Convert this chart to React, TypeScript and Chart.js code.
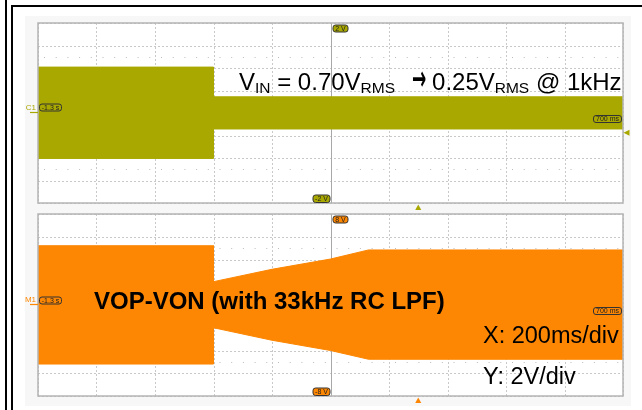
import React, { useEffect, useRef } from "react";
import { Chart, registerables } from "chart.js";

Chart.register(...registerables);

// ---- data (seconds relative to trigger, volts) ----
const xTicks = [-1.3, -1.1, -0.9, -0.7, -0.5, -0.3, -0.1, 0.1, 0.3, 0.5, 0.7];

const vinTime = [-1.3, -0.7, -0.7, 0.7];
const vinUpper = [1.02, 1.02, 0.36, 0.36];
const vinLower = [-1.01, -1.01, -0.355, -0.355];
const vinTicks = [-2, -1.5, -1, -0.5, 0, 0.5, 1, 1.5, 2];

const voutTime = [-1.3, -0.7, -0.7, -0.5, -0.3, -0.17, 0.7];
const voutUpper = [5.21, 5.21, 2.05, 3.14, 4.04, 4.84, 4.84];
const voutLower = [-5.19, -5.19, -2.0, -3.1, -4.0, -4.77, -4.77];
const voutTicks = [-8, -6, -4, -2, 0, 2, 4, 6, 8];

const OLIVE = "#a9a800";
const ORANGE = "#fd8602";
const FONT = "'Liberation Sans', Arial, sans-serif";

function drawBadge(ctx: CanvasRenderingContext2D, text: string, x: number, y: number, w: number, h: number, fill: string) {
  ctx.save();
  ctx.beginPath();
  (ctx as any).roundRect(x + 0.5, y + 0.5, w, h, 2.5);
  ctx.fillStyle = fill;
  ctx.fill();
  ctx.strokeStyle = "#333";
  ctx.lineWidth = 1;
  ctx.stroke();
  ctx.fillStyle = "#222";
  ctx.font = `7px ${FONT}`;
  ctx.textAlign = "center";
  ctx.textBaseline = "middle";
  ctx.fillText(text, x + 0.5 + w / 2, y + 0.5 + h / 2 + 0.5);
  ctx.restore();
}

function makePlugin(cfg: {
  color: string;
  yTicks: number[];
  chLabel: string;
  labelDy: number;
  topBadge: string;
  botBadge: string;
  badgeDy: number;
  rightLevel: number | null;
}) {
  return {
    id: "scope",
    beforeDatasetsDraw(chart: any) {
      const { ctx, chartArea: a, scales } = chart;
      const xs = scales.x;
      const ys = scales.y;
      ctx.save();
      ctx.fillStyle = "#ffffff";
      ctx.fillRect(a.left, a.top, a.right - a.left, a.bottom - a.top);
      ctx.strokeStyle = "#c9c9c9";
      ctx.lineWidth = 1;
      ctx.setLineDash([2, 2]);
      xTicks.forEach((v) => {
        const px = Math.round(xs.getPixelForValue(v)) + 0.5;
        ctx.beginPath();
        ctx.moveTo(px, a.top);
        ctx.lineTo(px, a.bottom);
        ctx.stroke();
      });
      cfg.yTicks.forEach((v) => {
        const py = Math.round(ys.getPixelForValue(v)) + 0.5;
        ctx.beginPath();
        ctx.moveTo(a.left, py);
        ctx.lineTo(a.right, py);
        ctx.stroke();
      });
      // dotted rows at +-2.5 divisions
      const div = cfg.yTicks[1] - cfg.yTicks[0];
      ctx.strokeStyle = "#bdbdbd";
      ctx.setLineDash([1, 10.7]);
      [2.5 * div, -2.5 * div].forEach((v) => {
        const py = Math.round(ys.getPixelForValue(v)) + 0.5;
        ctx.beginPath();
        ctx.moveTo(a.left + 6, py);
        ctx.lineTo(a.right, py);
        ctx.stroke();
      });
      // solid centre lines
      ctx.setLineDash([]);
      ctx.strokeStyle = "#a8a8a8";
      const cx = Math.round(xs.getPixelForValue(-0.3)) + 0.5;
      ctx.beginPath();
      ctx.moveTo(cx, a.top);
      ctx.lineTo(cx, a.bottom);
      ctx.stroke();
      const cy = Math.round(ys.getPixelForValue(0)) + 0.5;
      ctx.beginPath();
      ctx.moveTo(a.left, cy);
      ctx.lineTo(a.right, cy);
      ctx.stroke();
      ctx.restore();
    },
    afterDatasetsDraw(chart: any) {
      const { ctx, chartArea: a, scales } = chart;
      const xs = scales.x;
      const ys = scales.y;
      ctx.save();
      ctx.strokeStyle = "#b4b4b4";
      ctx.lineWidth = 1.5;
      ctx.strokeRect(a.left, a.top, a.right - a.left, a.bottom - a.top);
      const cx = xs.getPixelForValue(-0.3);
      const cy = ys.getPixelForValue(0);
      // channel label and level marker
      ctx.fillStyle = cfg.color;
      ctx.font = `8px ${FONT}`;
      ctx.textAlign = "right";
      ctx.textBaseline = "alphabetic";
      ctx.fillText(cfg.chLabel, a.left - 2, cy + cfg.labelDy);
      ctx.strokeStyle = cfg.color;
      ctx.lineWidth = 1.2;
      ctx.beginPath();
      ctx.moveTo(a.left - 8, cy - 0.5);
      ctx.lineTo(a.left, cy - 0.5);
      ctx.stroke();
      // badges
      drawBadge(ctx, "-1.3 s", a.left + 1, cy + cfg.badgeDy - 3.5, 22, 7, cfg.color);
      drawBadge(ctx, "700 ms", a.right - 30, cy + 2, 28, 7, cfg.color);
      drawBadge(ctx, cfg.topBadge, cx + 2, a.top + 1.5, 15, 7, cfg.color);
      drawBadge(ctx, cfg.botBadge, cx - 18, a.bottom - 8.5, 17, 7.5, cfg.color);
      // trigger position marker
      const tx = xs.getPixelForValue(0);
      ctx.fillStyle = cfg.color;
      ctx.beginPath();
      ctx.moveTo(tx, a.bottom + 1.5);
      ctx.lineTo(tx - 3, a.bottom + 7);
      ctx.lineTo(tx + 3, a.bottom + 7);
      ctx.closePath();
      ctx.fill();
      if (cfg.rightLevel !== null) {
        const ly = ys.getPixelForValue(cfg.rightLevel);
        ctx.beginPath();
        ctx.moveTo(a.right + 0.5, ly);
        ctx.lineTo(a.right + 6.5, ly - 3);
        ctx.lineTo(a.right + 6.5, ly + 3);
        ctx.closePath();
        ctx.fill();
      }
      ctx.restore();
    },
  };
}

function pts(t: number[], v: number[]) {
  return t.map((x, i) => ({ x, y: v[i] }));
}

function ScopeChart(props: {
  top: number;
  height: number;
  pad: { left: number; top: number; right: number; bottom: number };
  time: number[];
  upper: number[];
  lower: number[];
  yTicks: number[];
  color: string;
  plugin: any;
}) {
  const ref = useRef<HTMLCanvasElement | null>(null);
  useEffect(() => {
    if (!ref.current) return;
    const yMin = props.yTicks[0];
    const yMax = props.yTicks[props.yTicks.length - 1];
    const chart = new Chart(ref.current, {
      type: "line",
      data: {
        datasets: [
          {
            data: pts(props.time, props.upper),
            borderColor: props.color,
            backgroundColor: props.color,
            borderWidth: 1,
            pointRadius: 0,
            tension: 0,
            fill: "+1",
          },
          {
            data: pts(props.time, props.lower),
            borderColor: props.color,
            backgroundColor: props.color,
            borderWidth: 1,
            pointRadius: 0,
            tension: 0,
            fill: false,
          },
        ],
      },
      options: {
        responsive: false,
        animation: false,
        parsing: false as any,
        layout: { padding: props.pad },
        plugins: { legend: { display: false }, tooltip: { enabled: false } },
        scales: {
          x: { type: "linear", min: xTicks[0], max: xTicks[xTicks.length - 1], display: false },
          y: { type: "linear", min: yMin, max: yMax, display: false },
        },
      },
      plugins: [props.plugin],
    });
    return () => chart.destroy();
  }, []);
  return (
    <canvas
      ref={ref}
      width={642}
      height={props.height}
      style={{ position: "absolute", left: 0, top: props.top, width: 642, height: props.height }}
    />
  );
}

const vinPlugin = makePlugin({
  color: OLIVE,
  yTicks: vinTicks,
  chLabel: "C1",
  labelDy: -3.5,
  topBadge: "2 V",
  botBadge: "-2 V",
  badgeDy: -6,
  rightLevel: -0.44,
});
const voutPlugin = makePlugin({
  color: ORANGE,
  yTicks: voutTicks,
  chLabel: "M1",
  labelDy: -3,
  topBadge: "8 V",
  botBadge: "-8 V",
  badgeDy: -5,
  rightLevel: null,
});

function Txt(props: { left: number; baseline: number; size: number; bold?: boolean; children: any }) {
  return (
    <div
      style={{
        position: "absolute",
        left: props.left,
        top: props.baseline - props.size * 0.8465,
        fontFamily: FONT,
        fontSize: props.size,
        lineHeight: props.size + "px",
        fontWeight: props.bold ? "bold" : "normal",
        color: "#000",
        whiteSpace: "nowrap",
      }}
    >
      {props.children}
    </div>
  );
}

const sub: React.CSSProperties = { fontSize: 15.5, position: "relative", top: 3 };
const arrowBox: React.CSSProperties = {
  display: "inline-block",
  width: 37,
  height: 24,
  position: "relative",
  verticalAlign: "baseline",
};
const arrowGlyph: React.CSSProperties = {
  position: "absolute",
  left: 17,
  top: -5,
  fontFamily: "'DejaVu Sans'",
  fontWeight: "bold",
  fontSize: 34,
  lineHeight: "34px",
  transform: "scaleX(0.5)",
  transformOrigin: "left center",
};

export default function App() {
  return (
    <div style={{ position: "fixed", left: 0, top: 0, width: 642, height: 410, background: "#fff", overflow: "hidden" }}>
      <div style={{ position: "absolute", left: 25, top: 16, width: 606, height: 390, background: "#f7f7f7" }} />
      <div style={{ position: "absolute", left: 5, top: 0, width: 2, height: 410, background: "#000" }} />
      <div style={{ position: "absolute", left: 11, top: 5, width: 2, height: 405, background: "#000" }} />
      <div style={{ position: "absolute", left: 11, top: 5, width: 631, height: 2, background: "#000" }} />
      <ScopeChart
        top={0}
        height={210}
        pad={{ left: 38, top: 23, right: 19, bottom: 7 }}
        time={vinTime}
        upper={vinUpper}
        lower={vinLower}
        yTicks={vinTicks}
        color={OLIVE}
        plugin={vinPlugin}
      />
      <ScopeChart
        top={210}
        height={200}
        pad={{ left: 38, top: 4, right: 19, bottom: 14 }}
        time={voutTime}
        upper={voutUpper}
        lower={voutLower}
        yTicks={voutTicks}
        color={ORANGE}
        plugin={voutPlugin}
      />
      <Txt left={239} baseline={86} size={24}>
        V<span style={sub}>IN</span> = 0.70V<span style={sub}>RMS</span>
        <span style={arrowBox}>
          <span style={arrowGlyph}>→</span>
        </span>
        0.25V<span style={sub}>RMS</span> @ 1kHz
      </Txt>
      <Txt left={94} baseline={309} size={24} bold>
        VOP-VON (with 33kHz RC LPF)
      </Txt>
      <Txt left={483} baseline={344} size={23.5}>
        X: 200ms/div
      </Txt>
      <Txt left={483} baseline={385} size={23.5}>
        Y: 2V/div
      </Txt>
    </div>
  );
}
